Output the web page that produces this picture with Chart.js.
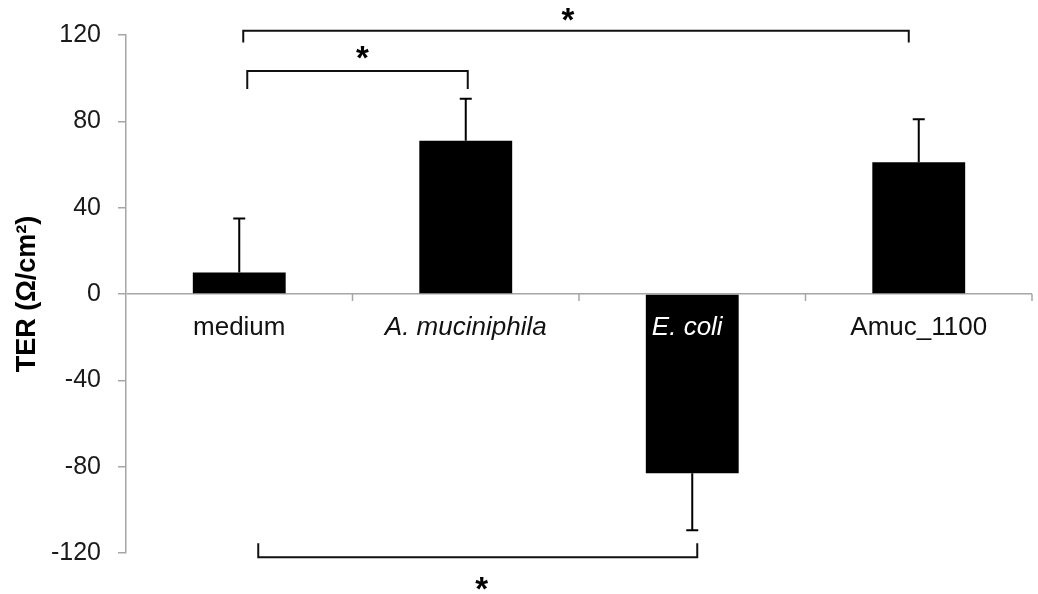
<!DOCTYPE html>
<html><head><meta charset="utf-8">
<script src="https://cdn.jsdelivr.net/npm/chart.js@4.4.0/dist/chart.umd.min.js"></script>
<style>html,body{margin:0;padding:0;background:#fff;}#wrap{width:1038px;height:594px;}</style>
</head><body><div id="wrap"><canvas id="c" width="1038" height="594"></canvas></div>
<script>
// ---- data ----
const categories = ['medium', 'A. muciniphila', 'E. coli', 'Amuc_1100'];
const italicCategory = [false, true, true, false];
const meanTER = [10, 71, -83, 61];
const errorTER = [25, 19.5, 26.5, 20];
const yTickValues = [-120, -80, -40, 0, 40, 80, 120];
const yTitle = 'TER (Ω/cm²)';
// significance brackets (category indices, levels in axis units)
const bracketFrom = [0, 0, 0];
const bracketTo = [3, 1, 2];
const bracketLevel = [122, 103.3, -122];
const bracketLegEnd = [116.5, 95, -115.5];
const starLevel = [129.5, 111.8, -134];
const starText = ['*', '*', '*'];

// ---- styles ----
const FONT = "'Liberation Sans', Arial, Helvetica, sans-serif";
const AXIS_GRAY = '#a6a6a6';
const bracketDx = [[4, -10], [8, 2], [19, 5]];
const starDx = [-8, 5, 4];

const overlay = {
  id: 'overlay',
  afterDatasetsDraw(chart) {
    const ctx = chart.ctx;
    const x = chart.scales.x, y = chart.scales.y;
    const area = chart.chartArea;
    const meta = chart.getDatasetMeta(0);
    ctx.save();
    // error bars
    ctx.strokeStyle = '#000';
    ctx.lineWidth = 2;
    meanTER.forEach((v, i) => {
      const cx = meta.data[i].x;
      const end = v + Math.sign(v) * errorTER[i];
      const y0 = y.getPixelForValue(v), y1 = y.getPixelForValue(end);
      ctx.beginPath();
      ctx.moveTo(cx, y0); ctx.lineTo(cx, y1);
      ctx.moveTo(cx - 6, y1); ctx.lineTo(cx + 6, y1);
      ctx.stroke();
    });
    // category boundary ticks on zero line
    const zeroY = y.getPixelForValue(0);
    ctx.strokeStyle = AXIS_GRAY;
    ctx.lineWidth = 1.5;
    for (let i = 0; i < categories.length; i++) {
      let bx;
      if (i < categories.length - 1) bx = (x.getPixelForValue(i) + x.getPixelForValue(i + 1)) / 2;
      else bx = area.right;
      ctx.beginPath();
      ctx.moveTo(bx, zeroY); ctx.lineTo(bx, zeroY + 7);
      ctx.stroke();
    }
    // category labels
    ctx.textAlign = 'center';
    ctx.textBaseline = 'alphabetic';
    categories.forEach((c, i) => {
      ctx.font = (italicCategory[i] ? 'italic ' : '') + '26px ' + FONT;
      ctx.fillStyle = meanTER[i] < 0 ? '#fff' : '#111';
      const dx = meanTER[i] < 0 ? -5 : 0;
      ctx.fillText(c, x.getPixelForValue(i) + dx, zeroY + 41);
    });
    // brackets
    ctx.strokeStyle = '#111';
    ctx.lineWidth = 2;
    bracketFrom.forEach((f, k) => {
      const xa = x.getPixelForValue(f) + bracketDx[k][0];
      const xb = x.getPixelForValue(bracketTo[k]) + bracketDx[k][1];
      const yb = y.getPixelForValue(bracketLevel[k]);
      const yl = y.getPixelForValue(bracketLegEnd[k]);
      ctx.beginPath();
      ctx.moveTo(xa, yl); ctx.lineTo(xa, yb); ctx.lineTo(xb, yb); ctx.lineTo(xb, yl);
      ctx.stroke();
      // star
      ctx.font = 'bold 33px ' + FONT;
      ctx.fillStyle = '#000';
      ctx.textBaseline = 'alphabetic';
      const m = ctx.measureText(starText[k]);
      const cy = y.getPixelForValue(starLevel[k]);
      const base = cy + (m.actualBoundingBoxAscent - m.actualBoundingBoxDescent) / 2;
      ctx.fillText(starText[k], (xa + xb) / 2 + starDx[k], base);
    });
    ctx.restore();
  }
};

new Chart(document.getElementById('c'), {
  type: 'bar',
  data: {
    labels: categories,
    datasets: [{
      data: meanTER,
      backgroundColor: '#000',
      borderWidth: 0,
      barPercentage: 0.41,
      categoryPercentage: 1
    }]
  },
  options: {
    responsive: false,
    animation: false,
    devicePixelRatio: 1,
    layout: { padding: { top: 35, bottom: 41, left: 0, right: 6 } },
    plugins: { legend: { display: false }, tooltip: { enabled: false } },
    scales: {
      x: { display: false, offset: true },
      y: {
        min: -120, max: 120,
        afterBuildTicks: (s) => { s.ticks = yTickValues.map(v => ({ value: v })); },
        afterFit: (s) => { s.width = 126; },
        ticks: {
          font: { family: FONT, size: 25 },
          color: '#1a1a1a',
          padding: 17
        },
        grid: {
          color: (c) => (c.tick && c.tick.value === 0) ? AXIS_GRAY : 'rgba(0,0,0,0)',
          tickColor: AXIS_GRAY,
          tickLength: 8,
          lineWidth: 1.5
        },
        border: { color: AXIS_GRAY, width: 1.5 },
        title: {
          display: true,
          text: yTitle,
          font: { family: FONT, size: 27, weight: 'bold' },
          color: '#000',
          padding: { top: 11, bottom: 0 }
        }
      }
    }
  },
  plugins: [overlay]
});
</script>
</body></html>
